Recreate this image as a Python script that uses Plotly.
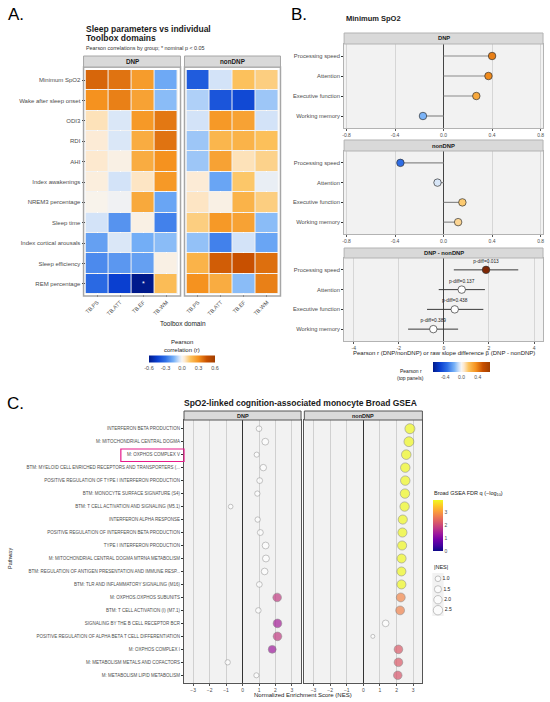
import math
import plotly.graph_objects as go

W, H = 550, 702
FONT = "Liberation Sans"
TICK = "#4d4d4d"
INK = "#1a1a1a"

# ---------------- panel A: sleep parameters vs toolbox domains
sleep_params = ["Minimum SpO2", "Wake after sleep onset", "ODI3", "RDI", "AHI",
                "Index awakenings", "NREM3 percentage", "Sleep time",
                "Index cortical arousals", "Sleep efficiency", "REM percentage"]
toolbox = ["TB.PS", "TB.ATT", "TB.EF", "TB.WM"]
r_dnp = [
    [0.40, 0.37, 0.27, -0.17],
    [0.30, 0.34, 0.25, -0.13],
    [0.07, -0.04, 0.28, 0.36],
    [0.04, -0.04, 0.22, 0.37],
    [0.05, 0.02, 0.22, 0.30],
    [0.03, -0.05, 0.06, 0.28],
    [0.01, -0.01, 0.23, -0.18],
    [-0.05, -0.22, 0.02, -0.26],
    [-0.19, -0.04, -0.16, -0.13],
    [-0.24, -0.21, -0.19, 0.02],
    [-0.32, -0.45, -0.60, 0.17],
]
r_nondnp = [
    [-0.36, -0.05, 0.155, 0.12],
    [-0.09, -0.38, -0.42, -0.11],
    [-0.05, 0.28, 0.25, -0.05],
    [-0.11, 0.19, 0.20, 0.16],
    [-0.11, 0.25, 0.07, 0.11],
    [0.04, -0.18, 0.14, -0.02],
    [0.06, 0.02, 0.20, 0.12],
    [0.12, 0.28, 0.25, -0.13],
    [-0.12, -0.26, -0.05, -0.18],
    [0.20, 0.42, 0.45, 0.38],
    [0.30, 0.22, -0.13, 0.34],
]
nominal_sig_dnp = [("REM percentage", "TB.EF")]
r_ticks = [-0.6, -0.3, 0.0, 0.3, 0.6]

# ---------------- panel B: Minimum SpO2 lollipops + slope difference
cog_domains = ["Processing speed", "Attention", "Executive function", "Working memory"]
spo2_r_dnp = [0.40, 0.37, 0.27, -0.17]
spo2_r_nondnp = [-0.356, -0.05, 0.155, 0.12]
diff_beta = [1.87, 0.79, 0.48, -0.47]
diff_lo = [0.44, -0.23, -0.75, -1.59]
diff_hi = [3.30, 1.82, 1.75, 0.63]
diff_p = [0.013, 0.137, 0.438, 0.389]

# ---------------- panel C: monocyte Broad GSEA
pathways = [
    "INTERFERON BETA PRODUCTION",
    "M: MITOCHONDRIAL CENTRAL DOGMA",
    "M: OXPHOS COMPLEX V",
    "BTM: MYELOID CELL ENRICHED RECEPTORS AND TRANSPORTERS (...",
    "POSITIVE REGULATION OF TYPE I INTERFERON PRODUCTION",
    "BTM: MONOCYTE SURFACE SIGNATURE (S4)",
    "BTM: T CELL ACTIVATION AND SIGNALING (M5.1)",
    "INTERFERON ALPHA RESPONSE",
    "POSITIVE REGULATION OF INTERFERON BETA PRODUCTION",
    "TYPE I INTERFERON PRODUCTION",
    "M: MITOCHONDRIAL CENTRAL DOGMA MTRNA METABOLISM",
    "BTM: REGULATION OF ANTIGEN PRESENTATION AND IMMUNE RESP...",
    "BTM: TLR AND INFLAMMATORY SIGNALING (M16)",
    "M: OXPHOS.OXPHOS SUBUNITS",
    "BTM: T CELL ACTIVATION (I) (M7.1)",
    "SIGNALING BY THE B CELL RECEPTOR BCR",
    "POSITIVE REGULATION OF ALPHA BETA T CELL DIFFERENTIATION",
    "M: OXPHOS COMPLEX I",
    "M: METABOLISM METALS AND COFACTORS",
    "M: METABOLISM LIPID METABOLISM",
]
nes_dnp = [1.00, 1.38, 0.86, 1.26, 1.04, 0.90, -0.72, 0.92, 1.08, 1.40,
           1.42, 1.34, 1.02, 2.10, 0.96, 2.12, 2.12, 1.80, -0.90, 0.84]
fdr_dnp = [None, None, None, None, None, None, None, None, None, None,
           None, None, None, 1.80, None, 1.40, 1.80, 1.33, None, None]
nes_nondnp = [2.80, 2.74, 2.58, 2.52, 2.52, 2.50, 2.48, 2.37, 2.35, 2.33,
              2.30, 2.29, 2.29, 2.25, 2.21, 1.34, 0.57, 2.11, 2.11, 2.07]
fdr_nondnp = [3.9, 3.9, 3.9, 3.9, 3.9, 3.9, 3.9, 3.9, 3.9, 3.9,
              3.9, 3.9, 3.9, 2.75, 2.70, None, None, 2.20, 2.20, 2.15]
nes_legend = [1.0, 1.5, 2.0, 2.5]


def xd(a, b):
    return [a / W, b / W]


def yd(top, bottom):
    return [1 - bottom / H, 1 - top / H]


def px(x):
    return x / W


def py(y):
    return 1 - y / H


def nes_size(v):
    return math.sqrt(max(37.7 * abs(v) - 5.5, 14))


r_scale = [
    [0.0, "#001a8c"], [0.125, "#0a3fd0"], [0.25, "#2f6fe6"], [0.375, "#78b2f7"],
    [0.458, "#d3e3f8"], [0.5, "#f7f5f2"], [0.542, "#fde9cf"], [0.625, "#fcc35e"],
    [0.75, "#f5921f"], [0.875, "#c85000"], [1.0, "#a03e00"],
]

fig = go.Figure()

# ---- A heatmaps
fig.add_trace(go.Heatmap(z=r_dnp, x=toolbox, y=sleep_params, coloraxis="coloraxis",
                         xgap=1, ygap=1, xaxis="x", yaxis="y"))
fig.add_trace(go.Heatmap(z=r_nondnp, x=toolbox, y=sleep_params, coloraxis="coloraxis",
                         xgap=1, ygap=1, xaxis="x2", yaxis="y2"))
for row, col in nominal_sig_dnp:
    fig.add_annotation(x=col, y=row, xref="x", yref="y", text="*", showarrow=False,
                       font=dict(size=7, color="white", family=FONT))

# ---- B lollipops
for vals, xa, ya in [(spo2_r_dnp, "x3", "y3"), (spo2_r_nondnp, "x4", "y4")]:
    xs, ys = [], []
    for d, v in zip(cog_domains, vals):
        xs += [0, v, None]
        ys += [d, d, None]
    fig.add_trace(go.Scatter(x=xs, y=ys, mode="lines", line=dict(color="#8a8a8a", width=1.2),
                             xaxis=xa, yaxis=ya, showlegend=False))
    fig.add_trace(go.Scatter(x=vals, y=cog_domains, mode="markers",
                             marker=dict(size=7.5, color=vals, coloraxis="coloraxis2",
                                         line=dict(color="#333333", width=0.7)),
                             xaxis=xa, yaxis=ya, showlegend=False))

diff_fill = ["#7f2704" if p < 0.05 else "white" for p in diff_p]
fig.add_trace(go.Scatter(
    x=diff_beta, y=cog_domains, mode="markers+text",
    text=[f"p-diff={p:.3f}" for p in diff_p], textposition="top center",
    textfont=dict(size=4.8, color=INK),
    error_x=dict(type="data", symmetric=False,
                 array=[h - b for h, b in zip(diff_hi, diff_beta)],
                 arrayminus=[b - l for b, l in zip(diff_beta, diff_lo)],
                 color="#3a3a3a", thickness=1, width=0),
    marker=dict(size=7.5, color=diff_fill, line=dict(color="#333333", width=0.7)),
    xaxis="x5", yaxis="y5", showlegend=False, cliponaxis=False))

# ---- C GSEA dots
for nes, fdr, xa, ya in [(nes_dnp, fdr_dnp, "x6", "y6"), (nes_nondnp, fdr_nondnp, "x7", "y7")]:
    ns = [i for i, f in enumerate(fdr) if f is None]
    sg = [i for i, f in enumerate(fdr) if f is not None]
    fig.add_trace(go.Scatter(
        x=[nes[i] for i in ns], y=[pathways[i] for i in ns], mode="markers",
        marker=dict(size=[nes_size(nes[i]) for i in ns], color="white",
                    line=dict(color="#8c8c8c", width=0.7)),
        xaxis=xa, yaxis=ya, showlegend=False))
    fig.add_trace(go.Scatter(
        x=[nes[i] for i in sg], y=[pathways[i] for i in sg], mode="markers",
        marker=dict(size=[nes_size(nes[i]) for i in sg], color=[fdr[i] for i in sg],
                    coloraxis="coloraxis3", line=dict(color="#6a6a6a", width=0.6)),
        xaxis=xa, yaxis=ya, showlegend=False))

# size legend
fig.add_trace(go.Scatter(
    x=[0] * len(nes_legend), y=[f"{v:.1f}" for v in nes_legend], mode="markers+text",
    text=[f"{v:.1f}" for v in nes_legend], textposition="middle right",
    textfont=dict(size=5, color=INK),
    marker=dict(size=[nes_size(v) for v in nes_legend], color="white",
                line=dict(color="#8c8c8c", width=0.7)),
    xaxis="x8", yaxis="y8", showlegend=False, cliponaxis=False))

tick_y = dict(ticks="outside", ticklen=2, tickcolor="#333333", showgrid=False, zeroline=False)

b_x = dict(range=[-0.82, 0.82], tickvals=[-0.8, -0.4, 0, 0.4, 0.8],
           ticktext=["-0.8", "-0.4", "0.0", "0.4", "0.8"],
           showgrid=True, gridcolor="#d6d6d6", gridwidth=0.8,
           zeroline=True, zerolinecolor="#444444", zerolinewidth=1.2,
           showline=True, mirror=True, linecolor="#b3b3b3", linewidth=1,
           ticks="outside", ticklen=2, tickcolor="#555555",
           tickfont=dict(size=5, color=TICK))
b_y = dict(categoryorder="array", categoryarray=cog_domains, range=[3.6, -0.6],
           showline=True, mirror=True, linecolor="#b3b3b3", linewidth=1,
           tickfont=dict(size=5.8, color=TICK), **tick_y)

c_x = dict(range=[-3.55, 3.55], tickvals=[-3, -2, -1, 0, 1, 2, 3],
           showgrid=True, gridcolor="#d0d0d0", gridwidth=0.8,
           zeroline=True, zerolinecolor="#333333", zerolinewidth=1.3,
           showline=True, mirror=True, linecolor="#555555", linewidth=1,
           ticks="outside", ticklen=2, tickcolor="#555555",
           tickfont=dict(size=5, color=TICK))
c_y = dict(categoryorder="array", categoryarray=pathways, range=[19.57, -0.67],
           showline=True, mirror=True, linecolor="#555555", linewidth=1,
           tickfont=dict(size=4.5, color=TICK), **tick_y)

fig.update_layout(
    width=W, height=H, margin=dict(l=0, r=0, t=0, b=0),
    paper_bgcolor="white", plot_bgcolor="#f2f2f2",
    font=dict(family=FONT, color=INK), showlegend=False,
    xaxis=dict(domain=xd(84, 177), anchor="y", tickangle=-45, ticks="outside", ticklen=2,
               tickcolor="#333333", tickfont=dict(size=5.5, color=TICK)),
    yaxis=dict(domain=yd(70, 294), anchor="x", autorange="reversed",
               tickfont=dict(size=6, color=TICK), **{**tick_y, "ticklen": 3}),
    xaxis2=dict(domain=xd(185.5, 278), anchor="y2", tickangle=-45, ticks="outside", ticklen=2,
                tickcolor="#333333", tickfont=dict(size=5.5, color=TICK)),
    yaxis2=dict(domain=yd(70, 294), anchor="x2", autorange="reversed", showticklabels=False,
                showgrid=False, zeroline=False),
    xaxis3=dict(domain=xd(344, 544), anchor="y3", **b_x),
    yaxis3=dict(domain=yd(44, 128), anchor="x3", **b_y),
    xaxis4=dict(domain=xd(344, 544), anchor="y4", **b_x),
    yaxis4=dict(domain=yd(151, 234), anchor="x4", **b_y),
    xaxis5=dict(domain=xd(344, 544), anchor="y5",
                **{**b_x, "range": [-4.43, 4.4], "tickvals": [-4, -2, 0, 2, 4],
                   "ticktext": ["-4", "-2", "0", "2", "4"]}),
    yaxis5=dict(domain=yd(258, 341), anchor="x5", **b_y),
    xaxis6=dict(domain=xd(183, 300.7), anchor="y6", **c_x),
    yaxis6=dict(domain=yd(420, 682.7), anchor="x6", **c_y),
    xaxis7=dict(domain=xd(304, 422.7), anchor="y7", **c_x),
    yaxis7=dict(domain=yd(420, 682.7), anchor="x7",
                **{**c_y, "showticklabels": False, "ticks": ""}),
    xaxis8=dict(domain=xd(432.7, 444), anchor="y8", range=[-1, 1], visible=False),
    yaxis8=dict(domain=yd(573, 616), anchor="x8", range=[3.55, -0.55], visible=False,
                type="category"),
    coloraxis=dict(colorscale=r_scale, cmin=-0.6, cmax=0.6,
                   colorbar=dict(orientation="h", x=px(181), xanchor="center",
                                 y=py(362), yanchor="middle", len=66, lenmode="pixels",
                                 thickness=7, xpad=0, ypad=0, outlinewidth=0,
                                 tickvals=r_ticks, ticktext=[f"{t:.1f}" for t in r_ticks],
                                 ticks="", tickfont=dict(size=5.5, color=TICK))),
    coloraxis2=dict(colorscale=r_scale, cmin=-0.7, cmax=0.7,
                    colorbar=dict(orientation="h", x=px(462), xanchor="center",
                                  y=py(370), yanchor="middle", len=57, lenmode="pixels",
                                  thickness=10, xpad=0, ypad=0, outlinewidth=0,
                                  tickvals=[-0.4, 0, 0.4], ticktext=["-0.4", "0.0", "0.4"],
                                  ticks="", tickfont=dict(size=5, color=TICK))),
    coloraxis3=dict(colorscale="Plasma", cmin=0, cmax=3.9,
                    colorbar=dict(x=px(433), xanchor="left", y=py(500), yanchor="top",
                                  len=51, lenmode="pixels", thickness=10, xpad=0, ypad=0,
                                  outlinewidth=0, tickvals=[0, 1, 2, 3], ticks="",
                                  tickfont=dict(size=5, color=TICK))),
)

shapes = []
# A panel borders + strips
for x0, x1 in [(82, 179.5), (183.5, 280)]:
    shapes.append(dict(type="rect", xref="paper", yref="paper", x0=px(x0), x1=px(x1),
                       y0=py(296), y1=py(67), line=dict(color="#a6a6a6", width=1.5)))
    shapes.append(dict(type="rect", xref="paper", yref="paper", x0=px(x0), x1=px(x1),
                       y0=py(67), y1=py(56), fillcolor="#d9d9d9",
                       line=dict(color="#a6a6a6", width=1)))
# B strips
for y0, y1 in [(33, 44), (140, 151), (248, 258)]:
    shapes.append(dict(type="rect", xref="paper", yref="paper", x0=px(344), x1=px(544),
                       y0=py(y1), y1=py(y0), fillcolor="#d9d9d9",
                       line=dict(color="#b3b3b3", width=1)))
# C strips
for x0, x1 in [(183, 300.7), (304, 422.7)]:
    shapes.append(dict(type="rect", xref="paper", yref="paper", x0=px(x0), x1=px(x1),
                       y0=py(420), y1=py(411), fillcolor="#d9d9d9",
                       line=dict(color="#555555", width=1)))
# highlight box on pathway label
shapes.append(dict(type="rect", xref="paper", yref="paper", x0=px(119.5), x1=px(183),
                   y0=py(461.5), y1=py(449), line=dict(color="#e6198a", width=1.2)))
fig.update_layout(shapes=shapes)


def note(x, y, text, size, bold=False, anchor="center", color=INK, angle=0):
    if bold:
        text = f"<b>{text}</b>"
    fig.add_annotation(x=px(x), y=py(y), xref="paper", yref="paper", text=text,
                       showarrow=False, xanchor=anchor, yanchor="middle", textangle=angle,
                       font=dict(size=size, color=color, family=FONT))


note(4, 14, "A.", 17, anchor="left", color="black")
note(289, 14, "B.", 17, anchor="left", color="black")
note(3, 403, "C.", 17, anchor="left", color="black")

note(82, 29, "Sleep parameters vs individual", 8.5, bold=True, anchor="left")
note(82, 38.5, "Toolbox domains", 8.5, bold=True, anchor="left")
note(82, 48, "Pearson correlations by group; * nominal p &lt; 0.05", 5.4, anchor="left",
     color="#333333")
note(130.75, 61.5, "DNP", 6.3, bold=True)
note(231.75, 61.5, "nonDNP", 6.3, bold=True)
note(182, 323, "Toolbox domain", 6.5)
note(181, 342, "Pearson", 6)
note(181, 349.5, "correlation (r)", 6)

note(344, 18, "Minimum SpO2", 7.5, bold=True, anchor="left")
note(444, 38.5, "DNP", 5.8, bold=True)
note(444, 145.5, "nonDNP", 5.8, bold=True)
note(444, 253, "DNP - nonDNP", 5.8, bold=True)
note(444, 353, "Pearson r (DNP/nonDNP) or raw slope difference β (DNP - nonDNP)", 6)
note(411, 371, "Pearson r", 5)
note(411, 377.5, "(top panels)", 5)

note(300, 403, "SpO2-linked cognition-associated monocyte Broad GSEA", 8.5, bold=True)
note(242, 415.5, "DNP", 5.5, bold=True)
note(363, 415.5, "nonDNP", 5.5, bold=True)
note(303, 694.5, "Normalized Enrichment Score (NES)", 6)
note(8, 558, "Pathway", 5.5, angle=-90)
note(432, 493, "Broad GSEA FDR q (−log<sub>10</sub>)", 5.5, anchor="left")
note(432, 567, "|NES|", 5.5, anchor="left")

# page body has a default 8px margin; drop it so the figure sits at the window corner
fig.write_html("out.html", config={"displayModeBar": False},
               post_script="document.body.style.margin = '0';")
